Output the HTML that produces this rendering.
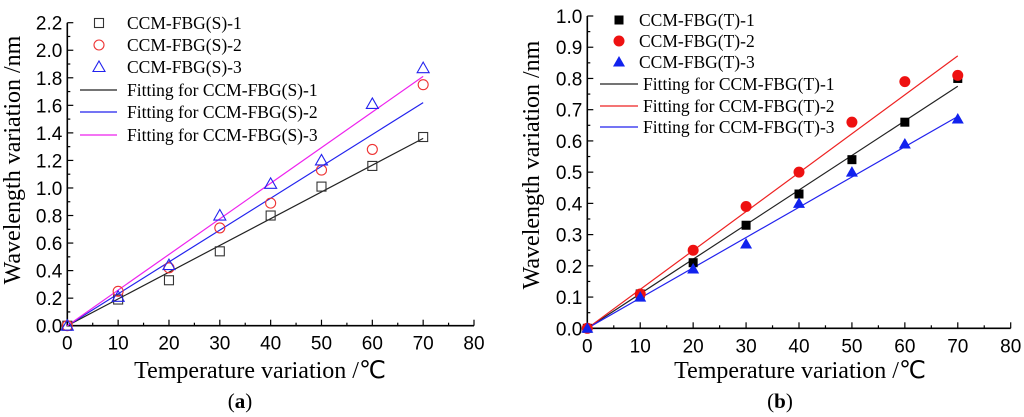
<!DOCTYPE html>
<html><head><meta charset="utf-8"><style>
html,body{margin:0;padding:0;background:#fff;}
svg{display:block;}
text{font-family:"Liberation Sans",sans-serif;}
.serif{font-family:"Liberation Serif",serif;}
</style></head><body>
<svg id="svg" width="1024" height="417" viewBox="0 0 1024 417" xmlns="http://www.w3.org/2000/svg"></svg>
<script>
const xTicks=[0,10,20,30,40,50,60,70,80];
const xs=[0,10,20,30,40,50,60,70];
const aTicks=[0,0.2,0.4,0.6,0.8,1.0,1.2,1.4,1.6,1.8,2.0,2.2];
const aS1=[0,0.19,0.33,0.54,0.80,1.01,1.16,1.37];
const aS2=[0,0.25,0.42,0.71,0.89,1.13,1.28,1.75];
const aS3=[0,0.21,0.44,0.80,1.03,1.20,1.61,1.87];
const aFit=[0.01943,0.02314,0.02586];
const bTicks=[0,0.1,0.2,0.3,0.4,0.5,0.6,0.7,0.8,0.9,1.0];
const bT1=[0,0.11,0.21,0.33,0.43,0.54,0.66,0.80];
const bT2=[0,0.11,0.25,0.39,0.50,0.66,0.79,0.81];
const bT3=[0,0.10,0.19,0.27,0.40,0.50,0.59,0.67];
const bFit=[0.01107,0.01246,0.00969];

const svg=document.getElementById('svg');
const NS='http://www.w3.org/2000/svg';
function el(t,a,p){const e=document.createElementNS(NS,t);for(const k in a)e.setAttribute(k,a[k]);(p||svg).appendChild(e);return e;}

function panel(cfg){
  const g=el('g',{});
  
  
  const X=v=>cfg.x0+(cfg.x1-cfg.x0)*v/80;
  const Y=v=>cfg.y0-(cfg.y0-cfg.y1)*v/cfg.ymax;
  const ax=el('path',{d:`M${X(0)},${Y(cfg.ymax)}V${Y(0)}H${X(80)}`,stroke:'#000','stroke-width':1.6,fill:'none'},g);
  
  
  xTicks.forEach(t=>{
    el('line',{x1:X(t),x2:X(t),y1:Y(0),y2:Y(0)-6,stroke:'#000','stroke-width':1.2},g);
    if(t<80)el('line',{x1:X(t+5),x2:X(t+5),y1:Y(0),y2:Y(0)-3,stroke:'#000','stroke-width':1.2},g);
    const tx=el('text',{x:X(t),y:Y(0)+24,'text-anchor':'middle','font-size':19},g);tx.textContent=t;
    
    
  });
  cfg.ticks.forEach((t,i)=>{
    el('line',{x1:X(0),x2:X(0)+6,y1:Y(t),y2:Y(t),stroke:'#000','stroke-width':1.2},g);
    if(i<cfg.ticks.length-1){const m=(t+cfg.ticks[i+1])/2;el('line',{x1:X(0),x2:X(0)+3,y1:Y(m),y2:Y(m),stroke:'#000','stroke-width':1.2},g);}
    const tx=el('text',{x:X(0)-5,y:Y(t)+7,'text-anchor':'end','font-size':19},g);tx.textContent=t.toFixed(1);
    
    
  });
  cfg.fits.forEach((s,i)=>{
    const l=el('line',{x1:X(0),y1:Y(0),x2:X(70),y2:Y(70*s),stroke:cfg.lineColors[i],'stroke-width':1.2},g);
    
    
  });
  function marker(type,cx,cy,par){
    const c=type.color,f=type.fill?c:'none',sw=type.fill?0:1.1;
    if(type.shape==='sq')return el('rect',{x:cx-4.5,y:cy-4.5,width:9,height:9,fill:f,stroke:c,'stroke-width':sw},par);
    if(type.shape==='ci')return el('circle',{cx:cx,cy:cy,r:type.fill?5.5:5,fill:f,stroke:c,'stroke-width':sw},par);
    return el('path',{d:`M${cx},${cy-6}L${cx+6},${cy+4.5}L${cx-6},${cy+4.5}Z`,fill:f,stroke:c,'stroke-width':sw},par);
  }
  cfg.series.forEach((s,si)=>{
    s.forEach((v,i)=>{
      const m=marker(cfg.mk[si],X(xs[i]),Y(v),g);
      
      
    });
  });
  const lg=el('g',{},g);
  
  
  cfg.labels.forEach((lab,i)=>{
    const y=cfg.legY[i];
    if(i<3)marker(cfg.mk[i],cfg.legMx,y,lg);
    else el('line',{x1:cfg.legL0,x2:cfg.legL1,y1:y,y2:y,stroke:cfg.lineColors[i-3],'stroke-width':1.2},lg);
    const t=el('text',{x:i<3?cfg.legTx:cfg.legTx2,y:y+6,'font-size':17.5,class:'serif'},lg);t.textContent=lab;
    
    
  });
  const yt=el('text',{transform:`translate(${cfg.ytx},${cfg.yty}) rotate(-90)`,'text-anchor':'middle','font-size':24,class:'serif'},g);
  yt.textContent='Wavelength variation /nm';
  
  
  const xt=el('text',{x:cfg.xtx,y:378,'text-anchor':'middle','font-size':24,class:'serif'},g);
  xt.textContent='Temperature variation /\u2103';
  
  
  const cap=el('text',{x:cfg.xtx-20,y:408,'text-anchor':'middle','font-size':21,class:'serif'},g);
  cap.innerHTML='(<tspan font-weight="bold">'+cfg.cap+'</tspan>)';
  
  
}
panel({name:'chart-a',x0:67.3,x1:474,y0:325.7,y1:22.7,ymax:2.2,ticks:aTicks,fits:aFit,
  lineColors:['#222','#2222ee','#ee22ee'],series:[aS1,aS2,aS3],
  mk:[{shape:'sq',color:'#333',fill:false},{shape:'ci',color:'#ee3333',fill:false},{shape:'tr',color:'#2222ee',fill:false}],
  labels:['CCM-FBG(S)-1','CCM-FBG(S)-2','CCM-FBG(S)-3','Fitting for CCM-FBG(S)-1','Fitting for CCM-FBG(S)-2','Fitting for CCM-FBG(S)-3'],
  legY:[23,45,67,90,112,135],legMx:99,legTx:127,legTx2:127,legL0:80,legL1:117,ytx:20,yty:160,xtx:260,cap:'a'});
panel({name:'chart-b',x0:587.3,x1:1010.7,y0:328.3,y1:16,ymax:1.0,ticks:bTicks,fits:bFit,
  lineColors:['#222','#ee2222','#2222ee'],series:[bT1,bT2,bT3],
  mk:[{shape:'sq',color:'#000',fill:true},{shape:'ci',color:'#ee1111',fill:true},{shape:'tr',color:'#1122ee',fill:true}],
  labels:['CCM-FBG(T)-1','CCM-FBG(T)-2','CCM-FBG(T)-3','Fitting for CCM-FBG(T)-1','Fitting for CCM-FBG(T)-2','Fitting for CCM-FBG(T)-3'],
  legY:[20,41,62,84,106,127],legMx:619,legTx:639,legTx2:643,legL0:600,legL1:638,ytx:539,yty:165,xtx:800,cap:'b'});
</script>
</body></html>
